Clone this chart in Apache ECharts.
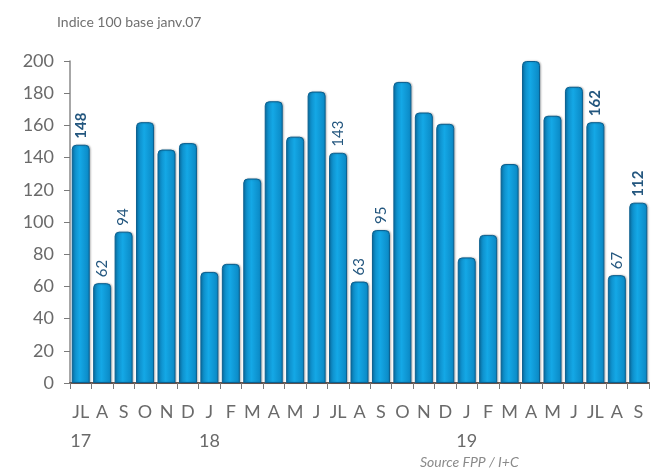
<!DOCTYPE html>
<html>
<head>
<meta charset="utf-8">
<script src="https://cdn.jsdelivr.net/npm/echarts@6/dist/echarts.min.js"></script>
<style>
  html, body { margin: 0; padding: 0; background: #fff; }
  #chart { width: 656px; height: 470px; }
</style>
</head>
<body>
<div id="chart"></div>
<script>
// months from July 2017 to September 2019
var months = ['JL', 'A', 'S', 'O', 'N', 'D', 'J', 'F', 'M', 'A', 'M', 'J', 'JL', 'A', 'S',
  'O', 'N', 'D', 'J', 'F', 'M', 'A', 'M', 'J', 'JL', 'A', 'S']
var years = ['17', '', '', '', '', '', '18', '', '', '', '', '', '', '', '',
  '', '', '', '19', '', '', '', '', '', '', '', '']
var values = [148, 62, 94, 162, 145, 149, 69, 74, 127, 175, 153, 181, 143, 63, 95,
  187, 168, 161, 78, 92, 136, 200, 166, 184, 162, 67, 112]
// only some bars carry a value label
var shownLabels = [1, 1, 1, 0, 0, 0, 0, 0, 0, 0, 0, 0, 1, 1, 1,
  0, 0, 0, 0, 0, 0, 0, 0, 0, 1, 1, 1]
var boldLabels = [1, 0, 0, 0, 0, 0, 0, 0, 0, 0, 0, 0, 0, 0, 0,
  0, 0, 0, 0, 0, 0, 0, 0, 0, 1, 0, 1]
var yTicks = [0, 20, 40, 60, 80, 100, 120, 140, 160, 180, 200]

var chart = echarts.init(document.getElementById('chart'))

var barColor = new echarts.graphic.LinearGradient(0, 0, 1, 0, [
  { offset: 0, color: '#0b7fb9' },
  { offset: 0.45, color: '#14a8e6' },
  { offset: 1, color: '#0a86c2' },
])

var seriesData = values.map(function (v, i) {
  return {
    value: v,
    label: {
      show: shownLabels[i] === 1,
      fontWeight: boldLabels[i] === 1 ? 'bold' : 'normal',
    },
  }
})

chart.setOption({
  animation: false,
  textStyle: { fontFamily: 'Lato' },
  title: [
    {
      text: 'Indice 100 base janv.07',
      left: 52,
      top: 10,
      textStyle: { fontSize: 14, fontWeight: 'normal', color: '#707070', fontFamily: 'Lato' },
    },
    {
      text: 'Source FPP / I+C',
      left: 415,
      top: 450,
      textStyle: { fontSize: 14, fontWeight: 'normal', fontStyle: 'italic', color: '#8a8a8a', fontFamily: 'Lato' },
    },
  ],
  grid: {
    left: 70,
    right: 7,
    top: 61,
    bottom: 87,
    containLabel: false,
  },
  xAxis: {
    type: 'category',
    data: months,
    axisLine: { lineStyle: { color: '#6b5a55', width: 2 } },
    axisTick: { show: true, alignWithLabel: false, length: 6, lineStyle: { color: '#7a7a7a' } },
    axisLabel: {
      interval: 0,
      color: '#6a6a6a',
      fontSize: 18,
      margin: 15,
      lineHeight: 29,
      formatter: function (val, idx) {
        return years[idx] ? val + '\n' + years[idx] : val + '\n '
      },
    },
  },
  yAxis: {
    type: 'value',
    min: yTicks[0],
    max: yTicks[yTicks.length - 1],
    interval: 20,
    splitLine: { show: false },
    axisLine: { show: true, lineStyle: { color: '#8a8a8a', width: 1.5 } },
    axisTick: { show: true, length: 6, lineStyle: { color: '#7a7a7a' } },
    axisLabel: { color: '#6a6a6a', fontSize: 18, margin: 16 },
  },
  series: [
    {
      type: 'bar',
      data: seriesData,
      barWidth: 18,
      itemStyle: {
        color: barColor,
        borderColor: '#0a5f8f',
        borderWidth: 1,
        borderRadius: [4, 4, 0, 0],
        shadowColor: 'rgba(0,0,0,0.25)',
        shadowBlur: 2,
        shadowOffsetX: 1,
      },
      label: {
        position: 'top',
        rotate: 90,
        distance: 6,
        align: 'left',
        verticalAlign: 'middle',
        color: '#24577f',
        fontSize: 15,
      },
    },
  ],
})
</script>
</body>
</html>
